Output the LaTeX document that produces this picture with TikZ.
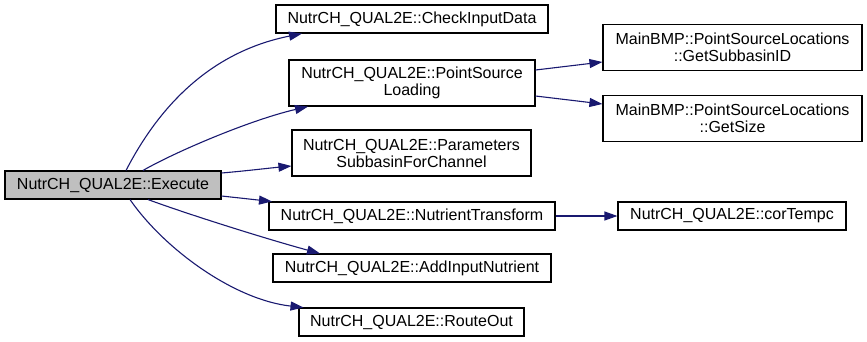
\documentclass[tikz,border=0pt]{standalone}
\usepackage{fontspec}
\setmainfont{Liberation Sans}
\usetikzlibrary{arrows.meta}
\definecolor{cblue}{HTML}{191970}
\definecolor{cgray}{HTML}{BFBFBF}
\tikzset{fn/.style = {draw, rectangle, line width = 1.1, inner sep = 0, minimum height = 28, align = center, font = \fontsize{16}{17}\selectfont}}
\tikzset{call/.style = {cblue, line width = 1.1, -{Triangle[length = 13pt, width = 9pt]}}}

\begin{document}
\begin{tikzpicture}[x = 1pt, y = -1pt]
       \useasboundingbox (0, 0) rectangle (867, 341);

       \node [fn, fill = cgray, minimum width = 216] (exec) at (113, 185) {NutrCH\_QUAL2E::Execute};

       \node [fn, minimum width = 272] (check) at (412, 19) {NutrCH\_QUAL2E::CheckInputData};
       \node [fn, minimum width = 246, minimum height = 46] (psl) at (412, 83) {NutrCH\_QUAL2E::PointSource\\Loading};
       \node [fn, minimum width = 239, minimum height = 46] (param) at (411.5, 153) {NutrCH\_QUAL2E::Parameters\\SubbasinForChannel};
       \node [fn, minimum width = 286] (ntrans) at (412, 216) {NutrCH\_QUAL2E::NutrientTransform};
       \node [fn, minimum width = 278] (addin) at (412, 268) {NutrCH\_QUAL2E::AddInputNutrient};
       \node [fn, minimum width = 225] (route) at (411.5, 322) {NutrCH\_QUAL2E::RouteOut};

       \node [fn, minimum width = 259, minimum height = 46] (subid) at (732.5, 47.5) {MainBMP::PointSourceLocations\\::GetSubbasinID};
       \node [fn, minimum width = 259, minimum height = 46] (getsize) at (732.5, 118.5) {MainBMP::PointSourceLocations\\::GetSize};
       \node [fn, minimum width = 228] (cortempc) at (732, 216) {NutrCH\_QUAL2E::corTempc};

       \draw [call] ([xshift = 13]exec.north) .. controls (165, 95) and (220, 50) .. ([xshift = -110]check.south);
       \draw [call] ([xshift = 30]exec.north) .. controls (175, 152) and (250, 120) .. ([xshift = -104]psl.south);
       \draw [call] ([yshift = 12]exec.east) .. controls (245, 171) and (270, 168) .. ([yshift = -13]param.west);
       \draw [call] ([yshift = -11]exec.east) .. controls (240, 198) and (258, 200) .. ([xshift = -140]ntrans.north);
       \draw [call] ([xshift = 35]exec.south) .. controls (190, 215) and (270, 240) .. ([xshift = -92]addin.north);
       \draw [call] ([xshift = 17]exec.south) .. controls (165, 250) and (235, 300) .. ([xshift = -108]route.north);

       \draw [call] ([yshift = 13]psl.east) -- ([yshift = -14.5]subid.west);
       \draw [call] ([yshift = -13]psl.east) -- ([yshift = 14.5]getsize.west);
       \draw [call] (ntrans) -- (cortempc);
    \end{tikzpicture}
\end{document}
